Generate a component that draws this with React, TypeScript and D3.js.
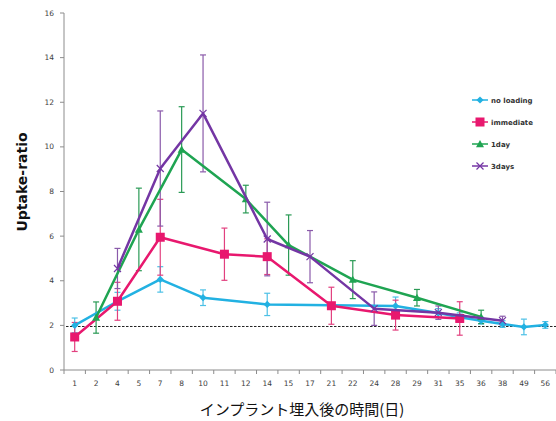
import React from "react"
import * as d3 from "d3"

// x categories (days after implant) and y ticks
const days = ["1", "2", "4", "5", "7", "8", "10", "11", "12", "14", "15", "17", "21", "22", "24", "28", "29", "31", "35", "36", "38", "49", "56"]
const yTicks = [0, 2, 4, 6, 8, 10, 12, 14, 16]
const baseline = 1.95

const noLoadingDays = ["1", "4", "7", "10", "14", "28", "31", "35", "36", "38", "49", "56"]
const noLoadingValues = [2.0, 3.08, 4.06, 3.24, 2.94, 2.87, 2.55, 2.36, 2.21, 2.06, 1.93, 2.02]
const noLoadingErrors = [0.33, 0.4, 0.57, 0.35, 0.5, 0.4, 0.2, 0.2, 0.15, 0.15, 0.35, 0.15]

const immediateDays = ["1", "4", "7", "11", "14", "21", "28", "35"]
const immediateValues = [1.48, 3.08, 5.95, 5.19, 5.08, 2.88, 2.46, 2.31]
const immediateErrors = [0.65, 0.85, 1.7, 1.17, 0.8, 0.83, 0.67, 0.75]

const oneDayDays = ["2", "5", "8", "12", "15", "22", "29", "36"]
const oneDayValues = [2.35, 6.3, 9.88, 7.66, 5.6, 4.05, 3.24, 2.38]
const oneDayErrors = [0.7, 1.85, 1.92, 0.62, 1.35, 0.85, 0.37, 0.3]

const threeDaysDays = ["4", "7", "10", "14", "17", "24", "31", "38"]
const threeDaysValues = [4.55, 9.03, 11.5, 5.87, 5.08, 2.75, 2.57, 2.21]
const threeDaysErrors = [0.9, 2.58, 2.62, 1.65, 1.17, 0.75, 0.3, 0.2]

const series = [
  { name: "no loading", days: noLoadingDays, values: noLoadingValues, errors: noLoadingErrors, color: "#22b1e2", errColor: "#4cc0e6", marker: "diamond" },
  { name: "immediate", days: immediateDays, values: immediateValues, errors: immediateErrors, color: "#e8186e", errColor: "#e2407f", marker: "square" },
  { name: "1day", days: oneDayDays, values: oneDayValues, errors: oneDayErrors, color: "#1fa452", errColor: "#2a9a55", marker: "triangle" },
  { name: "3days", days: threeDaysDays, values: threeDaysValues, errors: threeDaysErrors, color: "#7436a4", errColor: "#8a5aaa", marker: "cross" },
]

function Marker({ type, x, y, color }: { type: string; x: number; y: number; color: string }) {
  if (type === "diamond") {
    const s = 3.6
    return <path d={`M${x},${y - s}L${x + s},${y}L${x},${y + s}L${x - s},${y}Z`} fill={color} />
  }
  if (type === "square") {
    return <rect x={x - 4.5} y={y - 4.5} width={9} height={9} fill={color} />
  }
  if (type === "triangle") {
    const s = 4
    return <path d={`M${x},${y - s}L${x + s},${y + s * 0.8}L${x - s},${y + s * 0.8}Z`} fill={color} />
  }
  const s = 3.5
  return (
    <path d={`M${x - s},${y - s}L${x + s},${y + s}M${x - s},${y + s}L${x + s},${y - s}`} stroke={color} strokeWidth={1.2} fill="none" />
  )
}

export default function App() {
  const width = 556
  const height = 421
  const left = 64
  const right = 556
  const top = 13
  const bottom = 370

  const x = d3.scalePoint<string>().domain(days).range([left, right]).padding(0.5)
  const step = x.step()
  const y = d3.scaleLinear().domain([0, 16]).range([bottom, top])

  const line = d3.line<[string, number]>()
    .x(d => x(d[0]) as number)
    .y(d => y(d[1]))

  return (
    <svg width={width} height={height} style={{ position: "absolute", left: 0, top: 0, background: "#fff" }}>
      {/* axes */}
      <line x1={left} x2={left} y1={top} y2={bottom} stroke="#8c8c8c" strokeWidth={1} />
      <line x1={left} x2={right} y1={bottom} y2={bottom} stroke="#8c8c8c" strokeWidth={1} />
      {yTicks.map(t => (
        <g key={t}>
          <line x1={left - 4} x2={left} y1={y(t)} y2={y(t)} stroke="#8c8c8c" />
          <text x={left - 10} y={y(t) + 2.5} textAnchor="end" fontSize={7.5} fill="#404040" fontFamily="DejaVu Sans, sans-serif">{t}</text>
        </g>
      ))}
      {d3.range(days.length + 1).map(i => (
        <line key={i} x1={left + i * step} x2={left + i * step} y1={bottom} y2={bottom + 4} stroke="#8c8c8c" />
      ))}
      {days.map(d => (
        <text key={d} x={x(d)} y={bottom + 16} textAnchor="middle" fontSize={7.5} fill="#404040" fontFamily="DejaVu Sans, sans-serif">{d}</text>
      ))}

      {/* baseline */}
      <line x1={left + 2} x2={right} y1={y(baseline)} y2={y(baseline)} stroke="#222" strokeWidth={1} strokeDasharray="2.5,1.5" />

      {/* error bars */}
      {series.map(s => (
        <g key={s.name + "-err"} stroke={s.errColor} strokeWidth={1.2}>
          {s.days.map((d, i) => {
            const cx = x(d) as number
            const y1 = y(s.values[i] + s.errors[i])
            const y2 = y(s.values[i] - s.errors[i])
            return (
              <g key={d}>
                <line x1={cx} x2={cx} y1={y1} y2={y2} />
                <line x1={cx - 3} x2={cx + 3} y1={y1} y2={y1} />
                <line x1={cx - 3} x2={cx + 3} y1={y2} y2={y2} />
              </g>
            )
          })}
        </g>
      ))}

      {/* lines and markers */}
      {series.map(s => (
        <g key={s.name}>
          <path d={line(s.days.map((d, i) => [d, s.values[i]] as [string, number])) as string} fill="none" stroke={s.color} strokeWidth={2.5} strokeLinejoin="round" />
          {s.days.map((d, i) => (
            <Marker key={d} type={s.marker} x={x(d) as number} y={y(s.values[i])} color={s.color} />
          ))}
        </g>
      ))}

      {/* legend */}
      {series.map((s, i) => {
        const ly = 100 + i * 22
        return (
          <g key={s.name + "-leg"}>
            <line x1={472} x2={488} y1={ly} y2={ly} stroke={s.color} strokeWidth={1.5} />
            <Marker type={s.marker} x={480} y={ly} color={s.color} />
            <text x={491} y={ly + 2.5} fontSize={7} fontWeight="bold" fill="#333" fontFamily="DejaVu Sans, sans-serif">{s.name}</text>
          </g>
        )
      })}

      {/* axis titles */}
      <text transform={`translate(27,182) rotate(-90)`} textAnchor="middle" fontSize={14} fontWeight="bold" fill="#111" fontFamily="DejaVu Sans, sans-serif">Uptake-ratio</text>
      <text x={302} y={415} textAnchor="middle" fontSize={15} fill="#111" fontFamily="Noto Sans CJK JP, sans-serif">インプラント埋入後の時間(日)</text>
    </svg>
  )
}
